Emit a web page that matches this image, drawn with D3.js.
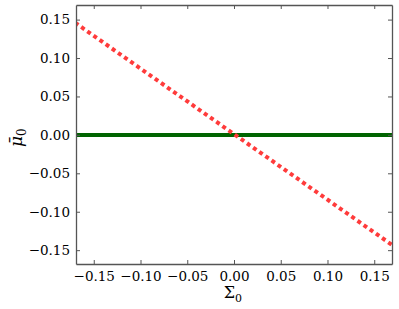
<!DOCTYPE html>
<html>
<head>
<meta charset="utf-8">
<script src="https://cdn.jsdelivr.net/npm/d3@7"></script>
<style>
body { margin: 0; background: #fff; }
text { font-family: "DejaVu Serif", serif; }
</style>
</head>
<body>
<script>
width = 399
height = 309
margin = {left: 76, top: 5, right: 7, bottom: 45}

// data
sigma = [-0.17, 0.17]
muRed = [0.146, -0.144]
muGreen = [0, 0]
xTicks = [-0.15, -0.10, -0.05, 0.00, 0.05, 0.10, 0.15]
yTicks = [-0.15, -0.10, -0.05, 0.00, 0.05, 0.10, 0.15]

x = d3.scaleLinear().domain([-0.169, 0.169]).range([margin.left, width - margin.right])
y = d3.scaleLinear().domain([-0.168, 0.169]).range([height - margin.bottom, margin.top])

fmt = function(d) { return d3.format(".2f")(d).replace("-", "\u2212") }

svg = d3.select("body")
    .append("svg")
    .attr("width", width)
    .attr("height", height)

plot = svg.append("g")

plot.append("clipPath").attr("id", "clip")
    .append("rect")
    .attr("x", margin.left).attr("y", margin.top)
    .attr("width", width - margin.left - margin.right)
    .attr("height", height - margin.top - margin.bottom)

line = d3.line()
    .x(function(d) { return x(d[0]) })
    .y(function(d) { return y(d[1]) })

plot.append("path")
    .datum(d3.zip(sigma, muGreen))
    .attr("d", line)
    .attr("clip-path", "url(#clip)")
    .attr("fill", "none")
    .attr("stroke", "#006400")
    .attr("stroke-width", 4)

plot.append("path")
    .datum(d3.zip(sigma, muRed))
    .attr("d", line)
    .attr("clip-path", "url(#clip)")
    .attr("fill", "none")
    .attr("stroke", "#ff3b3b")
    .attr("stroke-width", 4)
    .attr("stroke-dasharray", "4,3.5")

// axes with inward ticks on all four sides
bottom = svg.append("g")
    .attr("transform", "translate(0," + (height - margin.bottom) + ")")
    .call(d3.axisBottom(x).tickValues(xTicks).tickFormat(fmt).tickSizeInner(-4).tickSizeOuter(0).tickPadding(7))
top_ = svg.append("g")
    .attr("transform", "translate(0," + margin.top + ")")
    .call(d3.axisTop(x).tickValues(xTicks).tickFormat("").tickSizeInner(-4).tickSizeOuter(0))
left = svg.append("g")
    .attr("transform", "translate(" + margin.left + ",0)")
    .call(d3.axisLeft(y).tickValues(yTicks).tickFormat(fmt).tickSizeInner(-4).tickSizeOuter(0).tickPadding(6))
right = svg.append("g")
    .attr("transform", "translate(" + (width - margin.right) + ",0)")
    .call(d3.axisRight(y).tickValues(yTicks).tickFormat("").tickSizeInner(-4).tickSizeOuter(0))

svg.selectAll(".domain").attr("stroke", "#555").attr("stroke-width", 1.3)
svg.selectAll(".tick line").attr("stroke", "#555")
svg.selectAll(".tick text")
    .attr("font-family", "DejaVu Serif")
    .attr("font-size", 13.5)
    .attr("fill", "#000")

// axis labels
svg.append("text")
    .attr("x", x(0) + 1)
    .attr("y", height - 11)
    .attr("text-anchor", "end")
    .attr("font-size", 16)
    .text("\u03a3")
svg.append("text")
    .attr("x", x(0) + 1)
    .attr("y", height - 7)
    .attr("font-size", 11)
    .text("0")

svg.append("text")
    .attr("transform", "translate(22," + (y(0) + 1) + ") rotate(-90)")
    .attr("text-anchor", "end")
    .attr("font-size", 17)
    .attr("font-style", "italic")
    .text("\u03bc\u0304")
svg.append("text")
    .attr("transform", "translate(26," + (y(0) + 1) + ") rotate(-90)")
    .attr("font-size", 12)
    .text("0")
</script>
</body>
</html>
